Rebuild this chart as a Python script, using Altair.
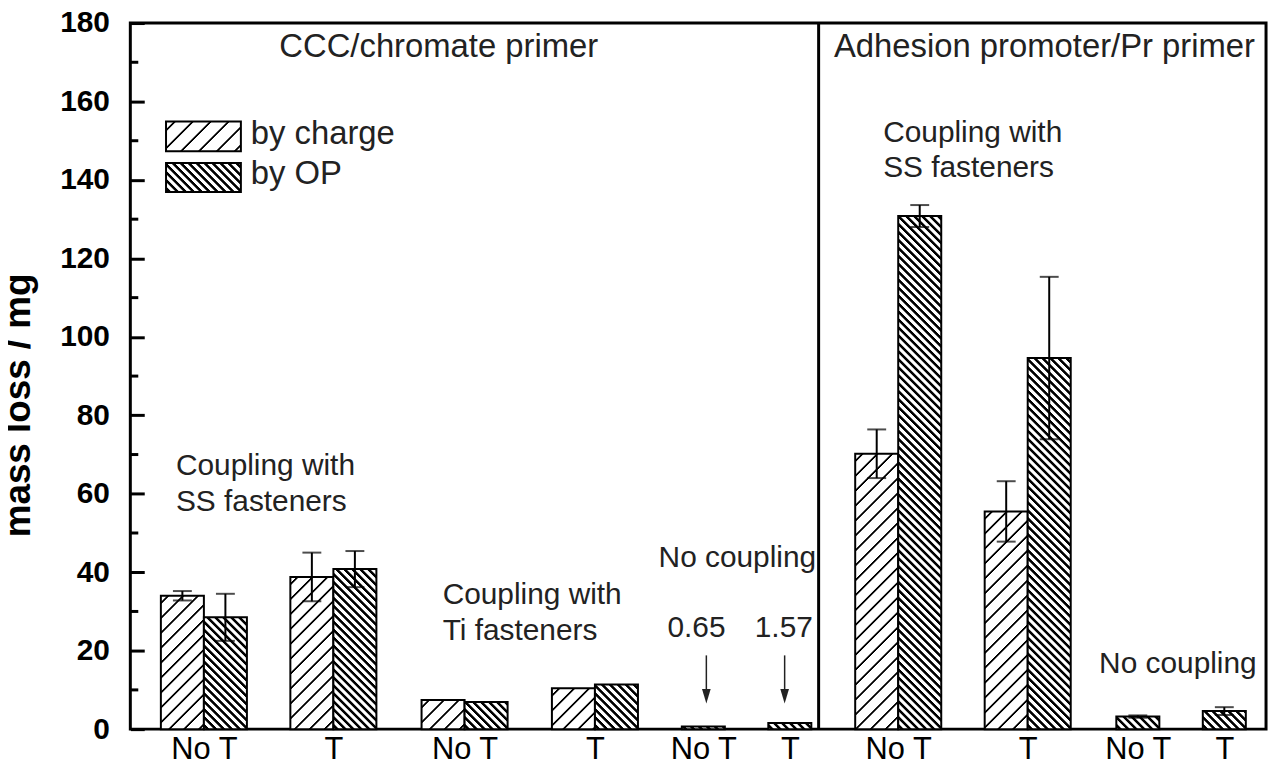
import altair as alt
import pandas as pd

# ---------------- data ----------------
group_labels = ["No T", "T", "No T", "T", "No T", "T", "No T", "T", "No T", "T"]
group_x = [1.71, 4.72, 7.77, 10.80, 13.32, 15.33, 17.85, 20.86, 23.42, 25.43]
charge = [34.0, 38.8, 7.4, 10.4, None, None, 70.2, 55.5, None, None]
charge_err = [1.2, 6.2, 0.0, 0.0, None, None, 6.2, 7.7, None, None]
op = [28.5, 40.8, 6.9, 11.4, 0.65, 1.57, 130.8, 94.6, 3.2, 4.6]
op_err = [6.0, 4.6, 0.0, 0.0, 0.0, 0.0, 2.8, 20.7, 0.3, 1.0]
section_divider_x = 16.0

header_text = ["CCC/chromate primer", "Adhesion promoter/Pr primer"]
header_x = [7.17, 21.25]
header_y = [171.4, 171.4]

note_text = ["Coupling with", "SS fasteners", "Coupling with", "Ti fasteners",
             "No coupling", "Coupling with", "SS fasteners", "No coupling"]
note_x = [1.06, 1.06, 7.26, 7.26, 12.28, 17.50, 17.50, 22.52]
note_y = [64.9, 55.5, 31.9, 22.6, 41.3, 149.8, 140.7, 14.2]

value_text = ["0.65", "1.57"]
value_x = [13.16, 15.19]
value_y = [23.6, 23.6]
arrow_x = [13.39, 15.21]
arrow_top = [18.8, 18.8]
arrow_tip = [8.4, 8.4]

legend_names = ["by charge", "by OP"]
legend_x0 = [0.83, 0.83]
legend_x1 = [2.57, 2.57]
legend_top = [154.9, 144.3]
legend_bot = [147.3, 136.9]
legend_text_x = [2.80, 2.80]
legend_text_y = [149.1, 138.9]

minor_ticks = [10, 30, 50, 70, 90, 110, 130, 150, 170]
major_ticks = [0, 20, 40, 60, 80, 100, 120, 140, 160, 180]

# ---------------- layout / style ----------------
X_MAX = 26.4
Y_MAX = 180
W, H = 1142, 710
PX_X = W / X_MAX
PX_Y = H / Y_MAX
FONT = "Liberation Sans"
TXT = "#222222"


def hatch(w, h, period, thick, forward):
    """Linear-gradient stripes at 45 degrees for a box of w x h pixels."""
    w = max(w, 1.0)
    h = max(h, 1.0)
    L = w + h
    c = L / (w * w + h * h)
    a, b = c * w, c * h
    if forward:
        x1, y1, x2, y2 = 0, 0, a, b
    else:
        x1, y1, x2, y2 = 0, 1, a, 1 - b
    e = 0.5
    ht = thick / 2
    stops = [{"offset": 0, "color": "white"}]
    s0 = period / 2
    while s0 - ht < L:
        for off, col in [(s0 - ht - e, "white"), (s0 - ht + e, "black"),
                         (s0 + ht - e, "black"), (s0 + ht + e, "white")]:
            o = min(max(off / L, 0.0), 1.0)
            stops.append({"offset": round(o, 5), "color": col})
        s0 += period
    stops.append({"offset": 1, "color": "white"})
    return {"gradient": "linear", "x1": x1, "y1": y1, "x2": x2, "y2": y2,
            "stops": stops}


CHARGE_P, CHARGE_T = 15, 2.5
OP_P, OP_T = 8, 3.6

# ---------------- tables ----------------
rows = []
for i, gx in enumerate(group_x):
    if charge[i] is not None:
        rows.append(dict(id=len(rows), series="by charge", x0=gx - 1, x1=gx,
                         value=charge[i], err=charge_err[i]))
        rows.append(dict(id=len(rows), series="by OP", x0=gx, x1=gx + 1,
                         value=op[i], err=op_err[i]))
    else:
        rows.append(dict(id=len(rows), series="by OP", x0=gx - 0.5, x1=gx + 0.5,
                         value=op[i], err=op_err[i]))
bars = pd.DataFrame(rows)
bars["zero"] = 0.0
bars["xc"] = (bars["x0"] + bars["x1"]) / 2
bars["lo"] = bars["value"] - bars["err"]
bars["hi"] = bars["value"] + bars["err"]
errs = bars[bars["err"] > 0]

label_expr = "[" + ",".join("'%s'" % s for s in group_labels) + "][indexof([" + \
    ",".join(str(v) for v in group_x) + "], datum.value)]"

x_axis = alt.Axis(values=group_x, labelExpr=label_expr, ticks=False, domain=False,
                  grid=False, labelFont=FONT, labelFontSize=31, labelColor="black",
                  labelPadding=6, labelFlush=False, labelOverlap=False, title=None)
y_axis = alt.Axis(values=major_ticks, offset=-14, tickSize=14, tickWidth=3,
                  tickColor="black", domain=False, grid=False, labelFont=FONT,
                  labelFontSize=30, labelFontWeight="bold", labelColor="black",
                  labelPadding=21, title="mass loss / mg", titleFont=FONT,
                  titleFontSize=37, titleFontWeight="bold", titleColor="black",
                  titleX=-115, titleY=384, titleBaseline="alphabetic")
x_scale = alt.Scale(domain=[0, X_MAX], nice=False, zero=False)
y_scale = alt.Scale(domain=[0, Y_MAX], nice=False)


def X(f):
    return alt.X(f, type="quantitative", scale=x_scale, axis=x_axis)


def Y(f):
    return alt.Y(f, type="quantitative", scale=y_scale, axis=y_axis)


layers = []
base = alt.Chart(bars)
for r in rows:
    w = (r["x1"] - r["x0"]) * PX_X
    h = r["value"] * PX_Y
    if r["series"] == "by charge":
        grad = hatch(w, h, CHARGE_P, CHARGE_T, True)
    else:
        grad = hatch(w, h, OP_P, OP_T, False)
    layers.append(
        base.transform_filter(alt.datum.id == r["id"]).mark_bar(
            fill=grad, stroke="black", strokeWidth=2
        ).encode(x=X("x0"), x2="x1", y=Y("value"), y2="zero")
    )

err_base = alt.Chart(errs)
layers.append(err_base.mark_rule(color="black", strokeWidth=2).encode(
    x=X("xc"), y=Y("lo"), y2="hi"))
layers.append(err_base.mark_tick(orient="horizontal", size=19, thickness=2,
                                 color="black").encode(x=X("xc"), y=Y("hi")))
layers.append(err_base.mark_tick(orient="horizontal", size=19, thickness=2,
                                 color="black").encode(x=X("xc"), y=Y("lo")))

# section divider
layers.append(alt.Chart(pd.DataFrame({"x": [section_divider_x]})).mark_rule(
    color="black", strokeWidth=3).encode(x=X("x")))

# minor ticks on y axis
layers.append(alt.Chart(pd.DataFrame({"v": minor_ticks})).mark_rule(
    color="black", strokeWidth=3).encode(
    y=Y("v"), x=alt.value(0), x2=alt.value(8)))

# texts
hdr = pd.DataFrame({"t": header_text, "x": header_x, "y": header_y})
layers.append(alt.Chart(hdr).mark_text(
    align="center", baseline="alphabetic", font=FONT, fontSize=33, color=TXT
).encode(x=X("x"), y=Y("y"), text="t"))

notes = pd.DataFrame({"t": note_text, "x": note_x, "y": note_y})
layers.append(alt.Chart(notes).mark_text(
    align="left", baseline="alphabetic", font=FONT, fontSize=30, color=TXT
).encode(x=X("x"), y=Y("y"), text="t"))

vals = pd.DataFrame({"t": value_text, "x": value_x, "y": value_y})
layers.append(alt.Chart(vals).mark_text(
    align="center", baseline="alphabetic", font=FONT, fontSize=30, color=TXT
).encode(x=X("x"), y=Y("y"), text="t"))

arrows = pd.DataFrame({"x": arrow_x, "top": arrow_top, "tip": arrow_tip})
layers.append(alt.Chart(arrows).mark_rule(color=TXT, strokeWidth=1.5).encode(
    x=X("x"), y=Y("top"), y2="tip"))
layers.append(alt.Chart(arrows).mark_point(
    shape="M-0.6,-1L0.6,-1L0,1Z", size=210, filled=True, color=TXT, opacity=1
).encode(x=X("x"), y=Y("tip")))

# legend
leg = pd.DataFrame({"name": legend_names, "x0": legend_x0, "x1": legend_x1,
                    "top": legend_top, "bot": legend_bot,
                    "tx": legend_text_x, "ty": legend_text_y})
for k, nm in enumerate(legend_names):
    sw = (legend_x1[k] - legend_x0[k]) * PX_X
    sh = (legend_top[k] - legend_bot[k]) * PX_Y
    g = hatch(sw, sh, 18, CHARGE_T, True) if k == 0 else hatch(sw, sh, OP_P, OP_T, False)
    layers.append(alt.Chart(leg).transform_filter(alt.datum.name == nm).mark_rect(
        fill=g, stroke="black", strokeWidth=2
    ).encode(x=X("x0"), x2="x1", y=Y("top"), y2="bot"))
layers.append(alt.Chart(leg).mark_text(
    align="left", baseline="alphabetic", font=FONT, fontSize=33, color=TXT
).encode(x=X("tx"), y=Y("ty"), text="name"))

chart = alt.layer(*layers).properties(
    width=W, height=H,
    autosize=alt.AutoSizeParams(type="none"),
    padding={"left": 123, "top": 13, "right": 6, "bottom": 45},
    background="white",
).configure_view(stroke="black", strokeWidth=3)

chart.save("out.html", embed_options={"renderer": "svg", "actions": False})
